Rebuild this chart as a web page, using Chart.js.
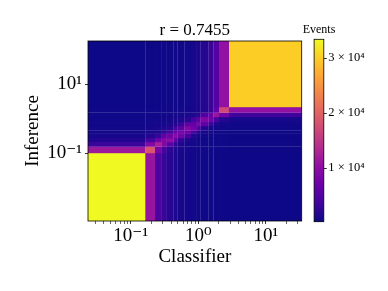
<!DOCTYPE html>
<html><head><meta charset="utf-8">
<script src="https://cdn.jsdelivr.net/npm/chart.js@4.4.1/dist/chart.umd.min.js"></script>
<style>
html,body{margin:0;padding:0;background:#fff;width:388px;height:291px;overflow:hidden}
#wrap{position:relative;width:388px;height:291px}
#main{position:absolute;left:0;top:0}
#cbar{position:absolute;left:259.2px;top:0}
</style></head><body>
<div id="wrap"><canvas id="main" width="388" height="291"></canvas><canvas id="cbar" width="120" height="291"></canvas></div>
<script>
// ---- text ----
const titleText = 'r = 0.7455';
const xTitle = 'Classifier';
const yTitle = 'Inference';
const cbarTitle = 'Events';

// ---- bin edges ----
const classifierEdges = [0.0233, 0.1644, 0.2291, 0.2877, 0.3412, 0.4305, 0.4932, 0.6223, 0.7816, 0.9506, 1.0814, 1.4125, 1.6749, 2.0324, 2.8576, 34.1];
const inferenceEdges = [0.00105, 0.1000, 0.1545, 0.2089, 0.2735, 0.3648, 0.4519, 0.6109, 0.7980, 1.117, 1.510, 2.183, 182];

// ---- counts: one row per inference bin (low to high), one column per classifier bin ----
const countsRow0  = [33400, 11000, 4500, 3000, 2000, 1300, 900, 700, 550, 450, 400, 350, 300, 300, 250];
const countsRow1  = [11500, 18500, 8000, 4000, 2200, 1400, 1000, 800, 600, 500, 450, 400, 400, 350, 300];
const countsRow2  = [3200, 9000, 12500, 9000, 5500, 2200, 1300, 900, 700, 550, 450, 400, 400, 350, 300];
const countsRow3  = [1600, 4000, 7500, 9000, 10000, 6000, 2500, 1300, 800, 600, 500, 400, 400, 350, 300];
const countsRow4  = [900, 1800, 3000, 6000, 7500, 9500, 7500, 4000, 1500, 900, 600, 450, 400, 350, 300];
const countsRow5  = [700, 1100, 1600, 2500, 4500, 6500, 8000, 7000, 4000, 1500, 900, 600, 450, 400, 300];
const countsRow6  = [600, 800, 1000, 1400, 2000, 4000, 5500, 9000, 7500, 4500, 1700, 900, 600, 450, 350];
const countsRow7  = [500, 600, 700, 900, 1200, 1600, 3000, 6000, 6500, 8500, 6000, 3000, 1100, 700, 450];
const countsRow8  = [450, 500, 550, 650, 800, 1000, 1300, 2000, 4000, 6000, 9000, 7500, 4000, 1500, 800];
const countsRow9  = [400, 450, 450, 500, 550, 650, 800, 1000, 1400, 2000, 5000, 7000, 11000, 7500, 3500];
const countsRow10 = [350, 400, 400, 450, 450, 500, 600, 700, 900, 1100, 1800, 3000, 6500, 17000, 10500];
const countsRow11 = [250, 300, 300, 350, 400, 450, 500, 600, 800, 1200, 1700, 3000, 5300, 10500, 30000];
const counts = [countsRow0, countsRow1, countsRow2, countsRow3, countsRow4, countsRow5, countsRow6, countsRow7, countsRow8, countsRow9, countsRow10, countsRow11];

// ---- ticks ----
const xMajorTicks = [0.1, 1, 10];
const xMajorLabels = ['10\u207B\u00B9', '10\u2070', '10\u00B9'];
const xMinorTicks = [0.03, 0.04, 0.05, 0.06, 0.07, 0.08, 0.09, 0.2, 0.3, 0.4, 0.5, 0.6, 0.7, 0.8, 0.9, 2, 3, 4, 5, 6, 7, 8, 9, 20, 30];
const yMajorTicks = [0.1, 10];
const yMajorLabels = ['10\u207B\u00B9', '10\u00B9'];
const cbarTicks = [10000, 20000, 30000];
const cbarLabels = ['1 \u00D7 10\u2074', '2 \u00D7 10\u2074', '3 \u00D7 10\u2074'];

// ---- style ----
const SERIF = "'Liberation Serif', 'DejaVu Serif', serif";
const plasmaStops = ['#0d0887','#41049d','#6a00a8','#8f0da4','#b12a90','#cc4778','#e16462','#f2844b','#fca636','#fcce25','#f0f921'];
const allCounts = counts.flat();
const vmin = Math.min(...allCounts);
const vmax = Math.max(...allCounts);

function hexRgb(h){ return [parseInt(h.slice(1,3),16), parseInt(h.slice(3,5),16), parseInt(h.slice(5,7),16)]; }
const plasmaRgb = plasmaStops.map(hexRgb);
function plasma(t){
  t = Math.max(0, Math.min(1, t));
  const s = t * (plasmaRgb.length - 1);
  const i = Math.min(Math.floor(s), plasmaRgb.length - 2);
  const f = s - i;
  const a = plasmaRgb[i], b = plasmaRgb[i+1];
  return 'rgb(' + [0,1,2].map(k => Math.round(a[k] + (b[k]-a[k])*f)).join(',') + ')';
}

const cells = [];
counts.forEach((row, j) => row.forEach((v, i) => {
  cells.push({
    x: Math.sqrt(classifierEdges[i] * classifierEdges[i+1]),
    y: Math.sqrt(inferenceEdges[j] * inferenceEdges[j+1]),
    x0: classifierEdges[i], x1: classifierEdges[i+1],
    y0: inferenceEdges[j], y1: inferenceEdges[j+1], v: v
  });
}));

const SEAM_OVERLAP = 0.2;
const heatmapPlugin = {
  id: 'heatmap',
  beforeDatasetsDraw(chart){
    const {ctx, chartArea, scales} = chart;
    const xs = scales.x, ys = scales.y;
    ctx.save();
    ctx.beginPath();
    ctx.rect(chartArea.left, chartArea.top, chartArea.right - chartArea.left, chartArea.bottom - chartArea.top);
    ctx.clip();
    chart.data.datasets[0].data.forEach(c => {
      const px0 = xs.getPixelForValue(c.x0), px1 = xs.getPixelForValue(c.x1);
      const py0 = ys.getPixelForValue(c.y0), py1 = ys.getPixelForValue(c.y1);
      ctx.fillStyle = plasma((c.v - vmin) / (vmax - vmin));
      ctx.fillRect(Math.min(px0,px1), Math.min(py0,py1), Math.abs(px1-px0) + SEAM_OVERLAP, Math.abs(py1-py0) + SEAM_OVERLAP);
    });
    ctx.restore();
  }
};
const framePlugin = {
  id: 'frame',
  afterDraw(chart){
    const {ctx, chartArea} = chart;
    ctx.save();
    ctx.strokeStyle = '#000';
    ctx.lineWidth = 0.8;
    ctx.strokeRect(chartArea.left, chartArea.top, chartArea.right - chartArea.left, chartArea.bottom - chartArea.top);
    ctx.restore();
  }
};

new Chart(document.getElementById('main'), {
  type: 'scatter',
  data: { datasets: [{ data: cells, pointRadius: 0, pointHoverRadius: 0 }] },
  plugins: [heatmapPlugin, framePlugin],
  options: {
    responsive: false, animation: false, devicePixelRatio: 1, events: [],
    layout: { padding: { left: 0, right: 86.3, top: 0, bottom: 0 } },
    plugins: {
      legend: { display: false }, tooltip: { enabled: false },
      title: { display: true, text: titleText, fullSize: false, color: '#000',
               font: { family: SERIF, size: 17, weight: 'normal' }, padding: { top: 20.5, bottom: 0.1 } }
    },
    scales: {
      x: {
        type: 'logarithmic', position: 'bottom', bounds: 'data',
        min: classifierEdges[0], max: classifierEdges[classifierEdges.length-1],
        afterBuildTicks: s => {
          s.ticks = xMinorTicks.map(v => ({value: v, major: false}))
            .concat(xMajorTicks.map(v => ({value: v, major: true})))
            .sort((a,b) => a.value - b.value);
        },
        afterFit: s => { s.height = 70; },
        ticks: { autoSkip: false, maxRotation: 0, minRotation: 0, padding: 1, color: '#000',
                 font: { family: SERIF, size: 19 },
                 callback: v => { const k = xMajorTicks.indexOf(v); return k >= 0 ? xMajorLabels[k] : ''; } },
        grid: { drawOnChartArea: false, drawTicks: true, tickLength: 3, tickColor: '#000',
                tickWidth: c => (c.tick && c.tick.major) ? 0.8 : 0.6 },
        border: { display: false },
        title: { display: true, text: xTitle, color: '#000', font: { family: SERIF, size: 19 }, padding: { top: 0, bottom: 23 } }
      },
      y: {
        type: 'logarithmic', position: 'left', bounds: 'data',
        min: inferenceEdges[0], max: inferenceEdges[inferenceEdges.length-1],
        afterBuildTicks: s => { s.ticks = yMajorTicks.map(v => ({value: v, major: true})); },
        afterFit: s => { s.width = 88; },
        ticks: { autoSkip: false, padding: 3, color: '#000', font: { family: SERIF, size: 19 },
                 callback: v => { const k = yMajorTicks.indexOf(v); return k >= 0 ? yMajorLabels[k] : ''; } },
        grid: { drawOnChartArea: false, drawTicks: true, tickLength: 3, tickColor: '#000', tickWidth: 0.8 },
        border: { display: false },
        title: { display: true, text: yTitle, color: '#000', font: { family: SERIF, size: 19 }, padding: { top: 22, bottom: 0 } }
      }
    }
  }
});

new Chart(document.getElementById('cbar'), {
  type: 'bar',
  data: {
    labels: [cbarTitle],
    datasets: [{
      data: [[vmin, vmax]], barPercentage: 1, categoryPercentage: 1, borderWidth: 0, yAxisID: 'y',
      backgroundColor: c => {
        const ch = c.chart, ys = ch.scales.y;
        if (!ys || !ch.chartArea) return plasmaStops[0];
        const g = ch.ctx.createLinearGradient(0, ys.getPixelForValue(vmin), 0, ys.getPixelForValue(vmax));
        plasmaStops.forEach((s, i) => g.addColorStop(i / (plasmaStops.length - 1), s));
        return g;
      }
    }]
  },
  plugins: [framePlugin],
  options: {
    responsive: false, animation: false, devicePixelRatio: 1, events: [],
    layout: { padding: { left: 0, right: 0, top: 0, bottom: 69.3 } },
    plugins: {
      legend: { display: false }, tooltip: { enabled: false },
      title: { display: true, text: cbarTitle, fullSize: true, color: '#000',
               font: { family: SERIF, size: 12, weight: 'normal' }, padding: { top: 22.8, bottom: 2.1 } }
    },
    scales: {
      x: { display: false },
      yl: { type: 'linear', position: 'left', min: 0, max: 1, display: true,
            afterFit: s => { s.width = 55.1; },
            ticks: { display: false }, grid: { display: false }, border: { display: false } },
      y: { type: 'linear', position: 'right', min: vmin, max: vmax,
           afterBuildTicks: s => { s.ticks = cbarTicks.map(v => ({value: v})); },
           afterFit: s => { s.width = 55.2; },
           ticks: { autoSkip: false, padding: 1.5, color: '#000', font: { family: SERIF, size: 12.5 },
                    callback: v => { const k = cbarTicks.indexOf(v); return k >= 0 ? cbarLabels[k] : ''; } },
           grid: { drawOnChartArea: false, drawTicks: true, tickLength: 3, tickColor: '#000', tickWidth: 0.8 },
           border: { display: false } }
    }
  }
});
</script>
</body></html>
